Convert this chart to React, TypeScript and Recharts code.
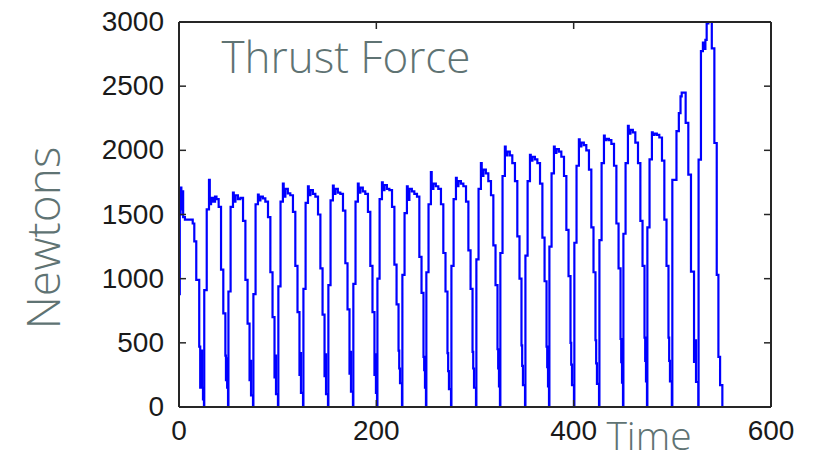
import React from 'react';
import { LineChart, Line, XAxis, YAxis } from 'recharts';

const xTicks = [0, 200, 400, 600];
const yTicks = [0, 500, 1000, 1500, 2000, 2500, 3000];
const titleText = 'Thrust Force';
const yLabel = 'Newtons';
const xLabel = 'Time';

// sample times, one line per stroke cycle
const time = [
  0, 0.8, 1.6, 2.4, 3.2, 4.2, 6, 13.9, 15.5, 17.5, 20.5, 21.5, 22.5, 23.3, 24.3,
  25.3, 25.6, 28.1, 30.4, 31.2, 32.5, 34.5, 36.5, 38, 40.2, 42.6, 44.9, 47, 47.6, 48.3, 48.8,
  49.7, 50.1, 52.3, 54.7, 55.5, 57.2, 59.7, 62.2, 64.9, 67.3, 69.5, 71.5, 72.2, 73.0,
  75, 75.4, 77.6, 80, 80.8, 82.5, 85, 87.5, 90.2, 92.6, 94.8, 96.8, 97.5, 98.3,
  100.3, 100.7, 102.9, 105.3, 106.1, 107.8, 110.3, 112.8, 115.5, 117.9, 120.1, 122.1, 122.8, 123.6,
  125.7, 126.1, 128.3, 130.7, 131.5, 133.2, 135.7, 138.2, 140.9, 143.3, 145.5, 147.5, 148.2, 149.0,
  151, 151.4, 153.6, 156, 156.8, 158.5, 161, 163.5, 166.2, 168.6, 170.8, 172.8, 173.5, 174.3,
  176.3, 176.7, 178.9, 181.3, 182.1, 183.8, 186.3, 188.8, 191.5, 193.9, 196.1, 198.1, 198.8, 199.6,
  200.7, 201.1, 203.3, 205.7, 206.5, 208.2, 210.7, 213.2, 215.9, 218.3, 220.5, 222.5, 223.2, 224.0,
  226, 226.4, 228.6, 231, 231.8, 233.5, 236, 238.5, 241.2, 243.6, 245.8, 247.8, 248.5, 249.3,
  250.3, 250.7, 252.9, 255.3, 256.1, 257.8, 260.3, 262.8, 265.5, 267.9, 270.1, 272.1, 272.8, 273.6,
  275.7, 276.1, 278.3, 280.7, 281.5, 283.2, 285.7, 288.2, 290.9, 293.3, 295.5, 297.5, 298.2, 299.0,
  301, 301.4, 303.6, 306, 306.8, 308.5, 311, 313.5, 316.2, 318.6, 320.8, 322.8, 323.5, 324.3,
  325.3, 325.7, 327.9, 330.3, 331.1, 332.8, 335.3, 337.8, 340.5, 342.9, 345.1, 347.1, 347.8, 348.6,
  350.7, 351.1, 353.3, 355.7, 356.5, 358.2, 360.7, 363.2, 365.9, 368.3, 370.5, 372.5, 373.2, 374.0,
  375, 375.4, 377.6, 380, 380.8, 382.5, 385, 387.5, 390.2, 392.6, 394.8, 396.8, 397.5, 398.3,
  400.3, 400.7, 402.9, 405.3, 406.1, 407.8, 410.3, 412.8, 415.5, 417.9, 420.1, 422.1, 422.8, 423.6,
  425.7, 426.1, 428.3, 430.7, 431.5, 433.2, 435.7, 438.2, 440.9, 443.3, 445.5, 447.5, 448.2, 449.0,
  450, 450.4, 452.6, 455, 455.8, 457.5, 460, 462.5, 465.2, 467.6, 469.8, 471.8, 472.5, 473.3,
  474.3, 474.7, 476.9, 479.3, 480.1, 481.8, 484.3, 486.8, 489.5, 491.9, 494.1, 496.1, 496.8, 497.6,
  499.5, 500, 504.2, 506.6, 508.3, 509.5, 513.5, 516.2, 518.9, 522, 523, 524,
  526.3, 526.6, 529, 531, 532.4, 533.5, 534.8, 536.5, 540, 542.6, 545, 546.7, 548.4, 550.7,
];

// thrust force in newtons at each sample time
const force = [
  880, 1500, 1710, 1540, 1680, 1480, 1460, 1430, 1290, 990, 470, 150, 440, 150, 60,
  0, 910, 1540, 1770, 1580, 1630, 1600, 1640, 1620, 1560, 1070, 730, 400, 210, 380, 150,
  0, 900, 1560, 1670, 1600, 1650, 1620, 1630, 1450, 990, 650, 210, 360, 90,
  0, 880, 1580, 1655, 1610, 1640, 1625, 1600, 1480, 1050, 700, 230, 400, 100,
  0, 940, 1600, 1740, 1640, 1700, 1665, 1650, 1520, 1100, 740, 250, 420, 110,
  0, 920, 1590, 1720, 1650, 1690, 1660, 1640, 1500, 1080, 720, 240, 410, 100,
  0, 950, 1610, 1725, 1660, 1700, 1670, 1660, 1530, 1120, 760, 260, 430, 120,
  0, 960, 1600, 1740, 1670, 1710, 1680, 1660, 1520, 1100, 740, 250, 410, 110,
  0, 1000, 1620, 1750, 1690, 1730, 1700, 1690, 1560, 1110, 800, 440, 300, 185,
  0, 1030, 1510, 1720, 1614, 1700, 1680, 1660, 1640, 1170, 890, 390, 287, 150,
  0, 1050, 1580, 1830, 1700, 1740, 1720, 1700, 1580, 1200, 900, 420, 280, 140,
  0, 1100, 1620, 1785, 1720, 1760, 1740, 1720, 1600, 1220, 920, 430, 300, 150,
  0, 1150, 1700, 1900, 1800, 1850, 1820, 1760, 1650, 1260, 950, 450, 300, 160,
  0, 1200, 1800, 2030, 1960, 1990, 1960, 1900, 1760, 1330, 1000, 480, 320, 170,
  0, 1180, 1760, 1965, 1920, 1950, 1930, 1900, 1740, 1320, 980, 470, 310, 160,
  0, 1250, 1820, 2030, 1980, 2010, 1990, 1950, 1800, 1380, 1020, 500, 330, 170,
  0, 1280, 1880, 2085, 2030, 2060, 2040, 2000, 1850, 1400, 1050, 520, 340, 180,
  0, 1300, 1900, 2115, 2080, 2090, 2080, 2050, 1880, 1430, 1080, 530, 350, 190,
  0, 1350, 1900, 2190, 2130, 2160, 2140, 2060, 1900, 1450, 1100, 540, 360, 200,
  0, 1400, 1930, 2140, 2120, 2130, 2120, 2100, 1920, 1460, 1100, 540, 360, 200,
  0, 1770, 2150, 2290, 2420, 2450, 2214, 1810, 1055, 352, 520, 195,
  0, 1927, 2773, 2840, 2790, 2860, 2990, 3000, 2794, 2057, 1029, 391, 170, 0,
];

const data = time.map((t, i) => ({ t, f: force[i] }));

const AXIS = '#262626';
const TICK_LEN = 7;
const TICK_FONT = '"Liberation Sans", Arial, sans-serif';
const LABEL_FONT = '"Open Sans", "Noto Sans", sans-serif';
const LABEL_COLOR = '#5f7373';

const BottomTick = ({ x, y, payload }: any) => (
  <g>
    <line x1={x} y1={y} x2={x} y2={y - TICK_LEN} stroke={AXIS} strokeWidth={1.5} />
    <text x={x} y={y + 33} textAnchor="middle" fontSize={28} fontFamily={TICK_FONT} fill="#1a1a1a">
      {payload.value}
    </text>
  </g>
);

const LeftTick = ({ x, y, payload }: any) => (
  <g>
    <line x1={x} y1={y} x2={x + TICK_LEN} y2={y} stroke={AXIS} strokeWidth={1.5} />
    <text x={x - 15} y={y + 9} textAnchor="end" fontSize={28} fontFamily={TICK_FONT} fill="#1a1a1a">
      {payload.value}
    </text>
  </g>
);

const TopTick = ({ x, y }: any) => (
  <line x1={x} y1={y} x2={x} y2={y + TICK_LEN} stroke={AXIS} strokeWidth={1.5} />
);

const RightTick = ({ x, y }: any) => (
  <line x1={x} y1={y} x2={x - TICK_LEN} y2={y} stroke={AXIS} strokeWidth={1.5} />
);

export default function App() {
  return (
    <div style={{ position: 'absolute', left: 0, top: 0, width: 813, height: 461, background: '#fff' }}>
      <LineChart width={813} height={461} data={data} margin={{ top: 21, right: 41, bottom: 0, left: 0 }}>
        <XAxis
          xAxisId="b"
          dataKey="t"
          type="number"
          domain={[0, 600]}
          ticks={xTicks}
          allowDataOverflow
          height={54}
          tickSize={0}
          tickMargin={0}
          tickLine={false}
          axisLine={{ stroke: AXIS, strokeWidth: 2 }}
          tick={<BottomTick />}
          interval={0}
        />
        <XAxis
          xAxisId="top"
          orientation="top"
          dataKey="t"
          type="number"
          domain={[0, 600]}
          ticks={xTicks}
          allowDataOverflow
          height={1}
          tickSize={0}
          tickMargin={0}
          tickLine={false}
          axisLine={{ stroke: AXIS, strokeWidth: 2 }}
          tick={<TopTick />}
          interval={0}
        />
        <YAxis
          yAxisId="l"
          type="number"
          domain={[0, 3000]}
          ticks={yTicks}
          allowDataOverflow
          width={179}
          tickSize={0}
          tickMargin={0}
          tickLine={false}
          axisLine={{ stroke: AXIS, strokeWidth: 2 }}
          tick={<LeftTick />}
          interval={0}
        />
        <YAxis
          yAxisId="r"
          orientation="right"
          type="number"
          domain={[0, 3000]}
          ticks={yTicks}
          allowDataOverflow
          width={1}
          tickSize={0}
          tickMargin={0}
          tickLine={false}
          axisLine={{ stroke: AXIS, strokeWidth: 2 }}
          tick={<RightTick />}
          interval={0}
        />
        <Line
          xAxisId="b"
          yAxisId="l"
          type="stepAfter"
          dataKey="f"
          stroke="#0000ff"
          strokeWidth={2.2}
          dot={false}
          activeDot={false}
          isAnimationActive={false}
        />
        <Line
          xAxisId="top"
          yAxisId="r"
          type="stepAfter"
          dataKey="f"
          stroke="none"
          dot={false}
          activeDot={false}
          isAnimationActive={false}
        />
      </LineChart>
      <svg width={813} height={461} style={{ position: 'absolute', left: 0, top: 0, pointerEvents: 'none' }}>
        <text x={346} y={73} textAnchor="middle" fontSize={44} fontWeight={300} fontFamily={LABEL_FONT} fill={LABEL_COLOR}>
          {titleText}
        </text>
        <text x={649} y={450} textAnchor="middle" fontSize={39} fontWeight={300} fontFamily={LABEL_FONT} fill={LABEL_COLOR}>
          {xLabel}
        </text>
        <text
          x={60}
          y={238}
          textAnchor="middle"
          fontSize={46}
          fontWeight={300}
          fontFamily={LABEL_FONT}
          fill={LABEL_COLOR}
          transform="rotate(-90 60 238)"
        >
          {yLabel}
        </text>
      </svg>
    </div>
  );
}
